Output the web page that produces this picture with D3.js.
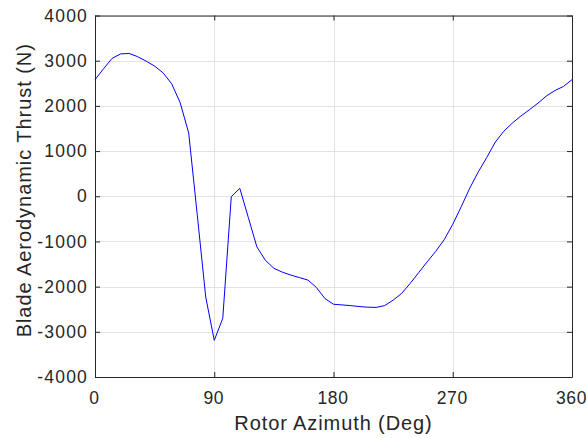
<!DOCTYPE html>
<html>
<head>
<meta charset="utf-8">
<script src="https://cdn.jsdelivr.net/npm/d3@7"></script>
<style>
  html, body { margin: 0; padding: 0; background: #fff; }
  svg { display: block; }
  text { font-family: "Liberation Sans", Arial, Helvetica, sans-serif; fill: #262626; }
</style>
</head>
<body>
<svg id="chart" width="587" height="438"></svg>
<script>
// Rotor azimuth (deg) samples
const azimuth = [0, 6.43, 12.86, 19.29, 25.71, 32.14, 38.57, 45, 51.43, 57.86,
  64.29, 70.71, 77.14, 83.57, 90, 96.43, 102.86, 109.29, 115.71, 122.14,
  128.57, 135, 141.43, 147.86, 154.29, 160.71, 167.14, 173.57, 180, 186.43,
  192.86, 199.29, 205.71, 212.14, 218.57, 225, 231.43, 237.86, 244.29, 250.71,
  257.14, 263.57, 270, 276.43, 282.86, 289.29, 295.71, 302.14, 308.57, 315,
  321.43, 327.86, 334.29, 340.71, 347.14, 353.57, 360];
// Blade aerodynamic thrust (N)
const thrust = [2580, 2820, 3050, 3150, 3160, 3090, 2990, 2880, 2730, 2490,
  2070, 1400, -400, -2230, -3190, -2700, -10, 175, -470, -1118,
  -1415, -1595, -1680, -1745, -1800, -1855, -2020, -2265, -2390, -2405,
  -2420, -2440, -2455, -2460, -2420, -2300, -2150, -1930, -1690, -1450,
  -1220, -960, -620, -230, 180, 540, 860, 1200, 1440, 1620,
  1775, 1915, 2060, 2220, 2340, 2430, 2580];
const xTicks = [0, 90, 180, 270, 360];
const yTicks = [-4000, -3000, -2000, -1000, 0, 1000, 2000, 3000, 4000];
const xLabel = "Rotor Azimuth (Deg)";
const yLabel = "Blade Aerodynamic Thrust (N)";

(function () {
const svg = d3.select("#chart");
const L = 95, R = 572, T = 15.5, B = 377;
const x = d3.scaleLinear().domain([0, 360]).range([L, R]);
const y = d3.scaleLinear().domain([-4000, 4000]).range([B, T]);
const axisColor = "#262626";
const gridColor = "#e3e3e3";

// grid
const grid = svg.append("g");
grid.selectAll(".gx").data(xTicks).enter().append("line")
  .attr("x1", d => Math.round(x(d)) + 0.5).attr("x2", d => Math.round(x(d)) + 0.5)
  .attr("y1", T).attr("y2", B).attr("stroke", gridColor).attr("stroke-width", 1);
grid.selectAll(".gy").data(yTicks).enter().append("line")
  .attr("y1", d => Math.round(y(d)) + 0.5).attr("y2", d => Math.round(y(d)) + 0.5)
  .attr("x1", L).attr("x2", R).attr("stroke", gridColor).attr("stroke-width", 1);

// line
const line = d3.line().x((d, i) => x(azimuth[i])).y(d => y(d));
svg.append("path").datum(thrust)
  .attr("d", line).attr("fill", "none").attr("stroke", "#0000ff").attr("stroke-width", 1);

// axes
const fmt = d => String(d);
const tickLen = 5;
const gBottom = svg.append("g").attr("transform", `translate(0,${B})`)
  .call(d3.axisBottom(x).tickValues(xTicks).tickFormat(fmt).tickSizeInner(-tickLen).tickSizeOuter(0).tickPadding(14.5));
const gTop = svg.append("g").attr("transform", `translate(0,${T})`)
  .call(d3.axisTop(x).tickValues(xTicks).tickFormat("").tickSizeInner(-tickLen).tickSizeOuter(0));
const gLeft = svg.append("g").attr("transform", `translate(${L},0)`)
  .call(d3.axisLeft(y).tickValues(yTicks).tickFormat(fmt).tickSizeInner(-tickLen).tickSizeOuter(0).tickPadding(7));
const gRight = svg.append("g").attr("transform", `translate(${R},0)`)
  .call(d3.axisRight(y).tickValues(yTicks).tickFormat("").tickSizeInner(-tickLen).tickSizeOuter(0));

[gBottom, gTop, gLeft, gRight].forEach(g => {
  g.select(".domain").attr("stroke", axisColor).attr("stroke-width", 1);
  g.selectAll(".tick line").attr("stroke", axisColor).attr("stroke-width", 1);
  g.selectAll("text").attr("fill", axisColor)
    .style("font-family", '"Liberation Sans", Arial, sans-serif')
    .style("font-size", "17.5px").style("letter-spacing", "1.2px");
});
gBottom.selectAll("text").style("letter-spacing", "0.6px").attr("dx", "-1");

// labels
svg.append("text").attr("x", (L + R) / 2).attr("y", 430)
  .attr("text-anchor", "middle").style("font-size", "20px").style("letter-spacing", "0.9px").text(xLabel);
svg.append("text").attr("transform", `translate(31,${(T + B) / 2 - 6}) rotate(-90)`)
  .attr("text-anchor", "middle").style("font-size", "20px").style("letter-spacing", "0.95px").text(yLabel);
})();
</script>
</body>
</html>
